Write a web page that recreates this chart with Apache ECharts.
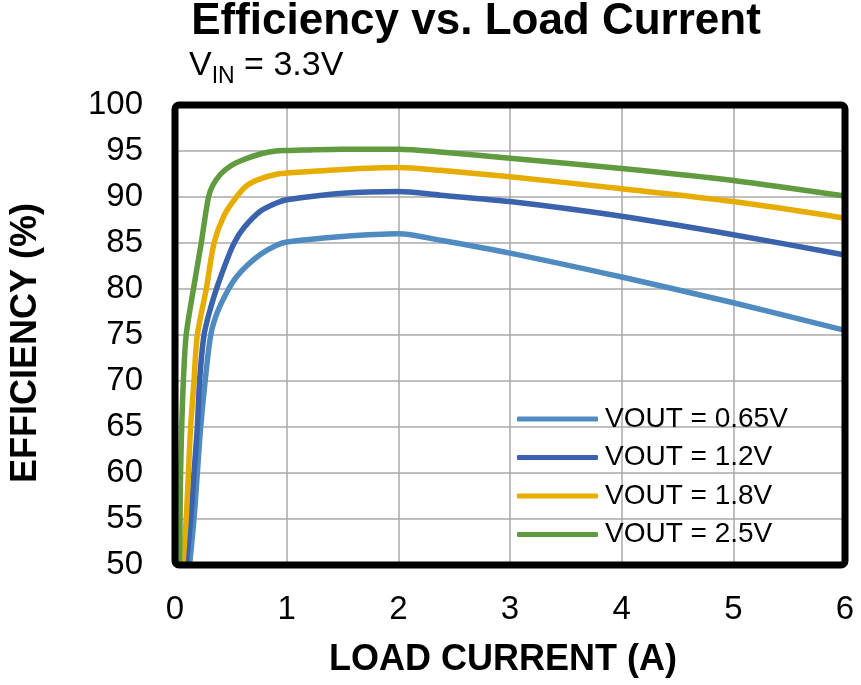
<!DOCTYPE html>
<html><head><meta charset="utf-8">
<script src="https://cdn.jsdelivr.net/npm/echarts@6/dist/echarts.min.js"></script>
<style>html,body{margin:0;padding:0;background:#fff}#c{width:861px;height:685px}</style>
</head><body><div id="c"></div>
<script>
// ---- data ----
const seriesNames = ['VOUT = 0.65V', 'VOUT = 1.2V', 'VOUT = 1.8V', 'VOUT = 2.5V'];
const seriesColors = ['#4F8BC1', '#3B62AD', '#E6AC00', '#619B40'];
const xTicks = [0, 1, 2, 3, 4, 5, 6];
const yTicks = [50, 55, 60, 65, 70, 75, 80, 85, 90, 95, 100];

const vout065 = [[0.13,50],[0.17,55],[0.20,60],[0.23,65],[0.27,70],[0.32,75],[0.38,77.5],[0.48,80],[0.55,81.3],[0.65,82.6],[0.77,83.8],[0.90,84.7],[1.0,85.1],[1.5,85.7],[2.0,86.0],[2.375,85.3],[3,83.9],[4,81.3],[5,78.5],[6,75.5]];
const vout12 = [[0.10,50],[0.14,55],[0.17,60],[0.20,65],[0.22,70],[0.26,75],[0.32,78],[0.385,80.5],[0.46,83],[0.53,85],[0.62,86.7],[0.77,88.5],[0.92,89.4],[1.0,89.7],[1.5,90.4],[2.0,90.6],[2.375,90.2],[3,89.5],[4,87.9],[5,85.9],[6,83.7]];
const vout18 = [[0.07,50],[0.10,55],[0.12,60],[0.14,65],[0.17,70],[0.20,75],[0.28,80],[0.35,85],[0.44,88],[0.55,90],[0.65,91.3],[0.77,92.0],[0.92,92.5],[1.0,92.6],[1.5,93.0],[2.0,93.2],[2.375,92.9],[3,92.2],[4,90.9],[5,89.5],[6,87.7]];
const vout25 = [[0.04,50],[0.045,55],[0.05,60],[0.06,65],[0.075,70],[0.10,75],[0.165,80],[0.235,85],[0.30,90],[0.34,91.3],[0.41,92.5],[0.50,93.4],[0.60,94.0],[0.77,94.7],[0.9,95.0],[1.0,95.05],[1.5,95.2],[2.0,95.2],[2.375,94.9],[3,94.2],[4,93.1],[5,91.8],[6,90.1]];
const allSeries = [vout065, vout12, vout18, vout25];

const FONT = '"Liberation Sans", Arial, sans-serif';
const G = {left: 175, top: 105, width: 670, height: 460};
const chart = echarts.init(document.getElementById('c'), null, {renderer: 'canvas'});
chart.setOption({
  animation: false,
  backgroundColor: '#fff',
  grid: {left: G.left, top: G.top, width: G.width, height: G.height, show: false},
  xAxis: {
    type: 'value', min: xTicks[0], max: xTicks[xTicks.length-1], interval: 1,
    axisLine: {show: false}, axisTick: {show: false},
    axisLabel: {fontSize: 33, color: '#000', fontFamily: FONT, margin: 28},
    splitLine: {show: true, lineStyle: {color: '#AAAAAA', width: 1.5}}
  },
  yAxis: {
    type: 'value', min: yTicks[0], max: yTicks[yTicks.length-1], interval: 5,
    axisLine: {show: false}, axisTick: {show: false},
    axisLabel: {fontSize: 33, color: '#000', fontFamily: FONT, margin: 32},
    splitLine: {show: true, lineStyle: {color: '#AAAAAA', width: 1.5}}
  },
  legend: {
    orient: 'vertical', left: 512, top: 400, itemWidth: 81, itemHeight: 5, itemGap: 10.5,
    icon: 'roundRect',
    textStyle: {fontSize: 28, color: '#000', fontFamily: FONT, padding: [0,0,0,2]},
    data: seriesNames
  },
  series: allSeries.map((d, i) => ({
    name: seriesNames[i], type: 'line', data: d, smooth: 0.3, showSymbol: false, symbol: 'none',
    clip: true,
    lineStyle: {color: seriesColors[i], width: 5.5, cap: 'round', join: 'round'},
    itemStyle: {color: seriesColors[i]}
  })),
  graphic: [
    {type: 'rect', shape: {x: G.left, y: G.top, width: G.width, height: G.height, r: 4}, style: {fill: 'none', stroke: '#000', lineWidth: 7}, z: 100, silent: true},
    {type: 'text', x: 476, y: 22, style: {text: 'Efficiency vs. Load Current', font: 'bold 44px ' + FONT, fill: '#000', align: 'center', verticalAlign: 'middle'}, z: 10},
    {type: 'text', x: 189, y: 66, style: {
      text: '{v|V}{s|IN}{v| = 3.3V}', verticalAlign: 'middle', fill: '#000',
      rich: {v: {font: '34px ' + FONT, fill: '#000'}, s: {font: '23px ' + FONT, fill: '#000', padding: [22,0,0,0]}}
    }, z: 10},
    {type: 'text', x: 26, y: 343, rotation: Math.PI/2, style: {text: 'EFFICIENCY (%)', font: 'bold 36px ' + FONT, fill: '#000', align: 'center', verticalAlign: 'middle'}, z: 10},
    {type: 'text', x: 503, y: 660, style: {text: 'LOAD CURRENT (A)', font: 'bold 36px ' + FONT, fill: '#000', align: 'center', verticalAlign: 'middle'}, z: 10}
  ]
});
</script>
</body></html>
